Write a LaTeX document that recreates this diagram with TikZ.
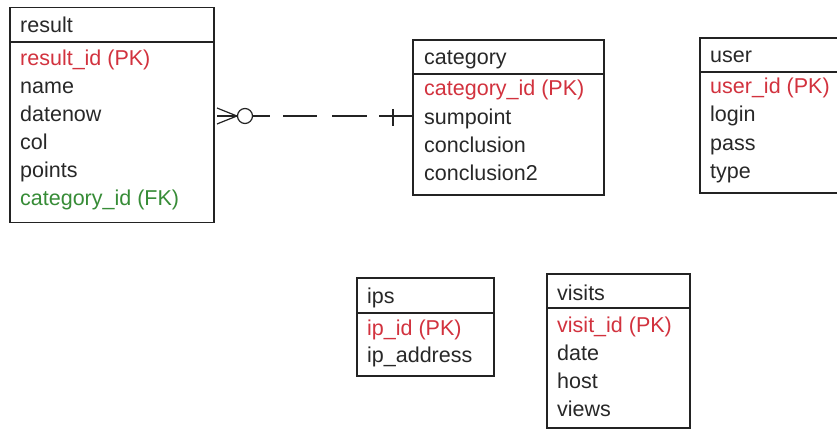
\documentclass[tikz,border=0pt]{standalone}
\usepackage{fontspec}
\setmainfont{Liberation Sans}
\usetikzlibrary{calc}
\definecolor{linec}{RGB}{35,35,35}
\definecolor{txt}{RGB}{40,40,40}
\definecolor{pkred}{RGB}{210,50,62}
\definecolor{fkgreen}{RGB}{55,140,55}
\newcommand{\tblfont}{\fontsize{21.5}{24}\selectfont}
\begin{document}
\begin{tikzpicture}[x=1pt,y=-1pt,
  tbl/.style={draw=linec, line width=1.6pt, inner sep=0pt, outer sep=0pt, anchor=north west, fill=white},
  sepline/.style={draw=linec, line width=1.6pt},
  fld/.style={anchor=base west, inner sep=0pt, text=txt, font=\tblfont},
  pk/.style={fld, text=pkred},
  fk/.style={fld, text=fkgreen},
  conn/.style={draw=linec, line width=1.2pt}
]
\useasboundingbox (0,0) rectangle (837,430);

% result
\node[tbl, minimum width=204pt, minimum height=215pt] (result) at (10,7.5) {};
\draw[sepline] ($(result.north west)+(0,34.5)$) -- ($(result.north east)+(0,34.5)$);
\node[fld] (rh) at (20,33) {result};
\node[pk]  (r1) at (20,65.5) {result\_id (PK)};
\node[fld] (r2) at (20,93.5) {name};
\node[fld] (r3) at (20,121.5) {datenow};
\node[fld] (r4) at (20,149.5) {col};
\node[fld] (r5) at (20,177.5) {points};
\node[fk]  (r6) at (20,205.5) {category\_id (FK)};

% category
\node[tbl, minimum width=191pt, minimum height=155pt] (category) at (413,40) {};
\draw[sepline] ($(category.north west)+(0,34)$) -- ($(category.north east)+(0,34)$);
\node[fld] (ch) at (424,64.5) {category};
\node[pk]  (c1) at (424,96) {category\_id (PK)};
\node[fld] (c2) at (424,124.5) {sumpoint};
\node[fld] (c3) at (424,153) {conclusion};
\node[fld] (c4) at (424,181) {conclusion2};

% user
\node[tbl, minimum width=160pt, minimum height=155pt] (user) at (700,38) {};
\draw[sepline] ($(user.north west)+(0,34)$) -- ($(user.north east)+(0,34)$);
\node[fld] (uh) at (710,63) {user};
\node[pk]  (u1) at (710,94) {user\_id (PK)};
\node[fld] (u2) at (710,122) {login};
\node[fld] (u3) at (710,150.5) {pass};
\node[fld] (u4) at (710,178.5) {type};

% ips
\node[tbl, minimum width=137pt, minimum height=98pt] (ips) at (357,278) {};
\draw[sepline] ($(ips.north west)+(0,35)$) -- ($(ips.north east)+(0,35)$);
\node[fld] (ih) at (367,303) {ips};
\node[pk]  (i1) at (367,335) {ip\_id (PK)};
\node[fld] (i2) at (367,362) {ip\_address};

% visits
\node[tbl, minimum width=143pt, minimum height=154pt] (visits) at (547,274) {};
\draw[sepline] ($(visits.north west)+(0,34)$) -- ($(visits.north east)+(0,34)$);
\node[fld] (vh) at (557,300) {visits};
\node[pk]  (v1) at (557,332) {visit\_id (PK)};
\node[fld] (v2) at (557,360) {date};
\node[fld] (v3) at (557,388) {host};
\node[fld] (v4) at (557,416) {views};

% relationship result >o----+| category
\node[circle, draw=linec, line width=1.2pt, fill=white, minimum size=15pt, inner sep=0pt] (zero) at ($(result.east)+(31,1)$) {};
\coordinate (foot1) at ($(result.east)+(3,-7)$);
\coordinate (foot2) at ($(result.east)+(3,1)$);
\coordinate (foot3) at ($(result.east)+(3,9)$);
\coordinate (catend) at (category.west |- zero);
\draw[conn] (foot1) -- (zero.west);
\draw[conn] (foot2) -- (zero.west);
\draw[conn] (foot3) -- (zero.west);
\draw[conn, dash pattern=on 17pt off 13pt on 34pt off 15pt on 35pt off 12pt on 60pt] (zero.east) -- (catend);
\draw[conn] ($(catend)+(-20,-7)$) -- ($(catend)+(-20,10)$);
\end{tikzpicture}
\end{document}
